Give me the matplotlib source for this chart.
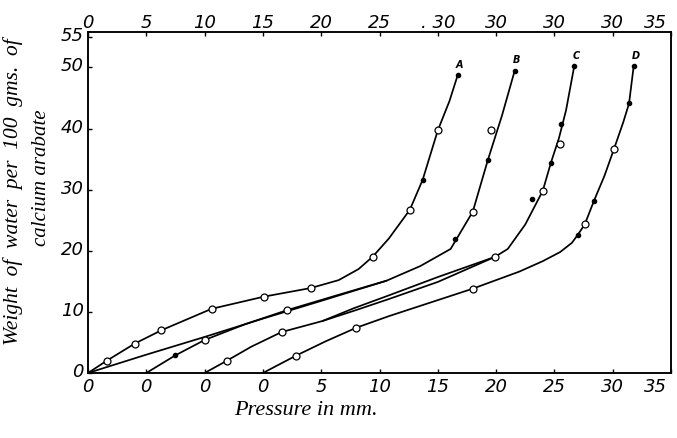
import matplotlib
matplotlib.use("Agg")
import matplotlib.pyplot as plt
import matplotlib.transforms as mtransforms
import numpy as np

# ---------------- data: pressure (mm, each curve's own scale) vs weight of water --------------
curve_names = ["A", "B", "C", "D"]
curve_offsets = [0, 5, 10, 15]          # each curve drawn 5 mm further to the right

# Curve A
A_x = [0, 1.6, 4.0, 6.3, 10.6, 15.1, 19.1, 21.5, 23.2, 24.4, 25.8, 27.6, 28.7, 30.0, 31.0, 31.7]
A_y = [0, 2.0, 4.8, 7.0, 10.5, 12.5, 13.9, 15.2, 17.0, 19.0, 22.0, 26.7, 31.6, 39.7, 44.5, 48.7]
A_circ_x = [1.6, 4.0, 6.3, 10.6, 15.1, 19.1, 24.4, 27.6, 30.0]
A_circ_y = [2.0, 4.8, 7.0, 10.5, 12.5, 13.9, 19.0, 26.7, 39.7]
A_dot_x = [28.7, 31.7]
A_dot_y = [31.6, 48.7]

# Curve B: upper branch (starts 5 mm left of B's zero) and lower branch
B_up_x = [-5, 0, 5, 10, 15, 20.6, 23.5, 26.1, 28.0, 29.3, 30.5, 31.6]
B_up_y = [0, 3.0, 5.9, 8.9, 11.8, 15.1, 17.5, 20.3, 26.4, 34.9, 42.1, 49.5]
B_low_x = [0, 2.5, 5.0, 8.5, 12.1, 16.5, 20.6]
B_low_y = [0, 2.9, 5.4, 8.0, 10.3, 12.8, 15.1]
B_circ_x = [5.0, 12.1, 28.0, 29.6]
B_circ_y = [5.4, 10.3, 26.4, 39.8]
B_dot_x = [2.5, 26.5, 29.3, 31.6]
B_dot_y = [2.9, 22.0, 34.9, 49.5]

# Curve C
C_x = [0, 1.9, 4.0, 6.6, 10.1, 13.0, 15.8, 20.0, 24.9, 26.0, 27.5, 29.0, 29.7, 30.4, 31.0, 31.7]
C_y = [0, 2.0, 4.3, 6.7, 8.5, 10.3, 12.1, 14.9, 19.0, 20.3, 24.3, 29.8, 34.4, 38.5, 43.0, 50.2]
C_second_x = [10.1, 12.8, 15.8, 20.0, 24.9]
C_second_y = [8.5, 10.6, 12.7, 15.7, 19.0]
C_circ_x = [1.9, 6.6, 24.9, 29.0, 30.5]
C_circ_y = [2.0, 6.7, 19.0, 29.8, 37.4]
C_dot_x = [28.1, 29.7, 30.6, 31.7]
C_dot_y = [28.4, 34.4, 40.8, 50.2]

# Curve D
D_x = [0, 2.8, 5.4, 8.0, 10.8, 14.0, 18.0, 22.0, 24.0, 25.5, 26.5, 27.0, 27.6, 28.4, 29.3, 30.1, 30.9, 31.4, 31.8]
D_y = [0, 2.8, 5.2, 7.4, 9.3, 11.3, 13.8, 16.6, 18.3, 19.8, 21.3, 22.6, 24.3, 28.2, 32.3, 36.6, 41.0, 44.1, 50.2]
D_circ_x = [2.8, 8.0, 18.0, 27.6, 30.1]
D_circ_y = [2.8, 7.4, 13.8, 24.3, 36.6]
D_dot_x = [27.0, 28.4, 31.4, 31.8]
D_dot_y = [22.6, 28.2, 44.1, 50.2]

bottom_labels = ["0", "0", "0", "0", "5", "10", "15", "20", "25", "30", "35"]
top_labels = ["0", "5", "10", "15", "20", "25", ". 30", "30", "30", "30", "35"]
y_ticks = [0, 10, 20, 30, 40, 50, 55]

# ---------------- figure -----------------------------------------------------------------------
W, H = 677, 439
fig = plt.figure(figsize=(W / 100, H / 100), dpi=100)
L, R, T, Bm = 88, 671, 33, 374
ax = fig.add_axes([L / W, 1 - Bm / H, (R - L) / W, (Bm - T) / H])

lw = 1.25
def line(xs, ys, off):
    ax.plot(np.array(xs) + off, ys, color="black", lw=lw, solid_joinstyle="round",
            solid_capstyle="round", zorder=2)

def circ(xs, ys, off):
    ax.plot(np.array(xs) + off, ys, "o", ms=5, mfc="white", mec="black", mew=0.9,
            ls="none", zorder=3)

def dots(xs, ys, off):
    ax.plot(np.array(xs) + off, ys, "o", ms=3, mfc="black", mec="black", ls="none", zorder=3)

oA, oB, oC, oD = curve_offsets
line(A_x, A_y, oA); circ(A_circ_x, A_circ_y, oA); dots(A_dot_x, A_dot_y, oA)
line(B_up_x, B_up_y, oB); line(B_low_x, B_low_y, oB)
circ(B_circ_x, B_circ_y, oB); dots(B_dot_x, B_dot_y, oB)
line(C_x, C_y, oC); line(C_second_x, C_second_y, oC)
circ(C_circ_x, C_circ_y, oC); dots(C_dot_x, C_dot_y, oC)
line(D_x, D_y, oD); circ(D_circ_x, D_circ_y, oD); dots(D_dot_x, D_dot_y, oD)

tops = [(A_x[-1] + oA, A_y[-1]), (B_up_x[-1] + oB, B_up_y[-1]),
        (C_x[-1] + oC, C_y[-1]), (D_x[-1] + oD, D_y[-1])]
for name, (tx, ty) in zip(curve_names, tops):
    ax.text(tx + 0.15, ty + 1.0, name, fontsize=7, style="italic", fontweight="bold",
            ha="center", va="bottom", family="DejaVu Sans")

ax.set_xlim(0, 50)
ax.set_ylim(0, 55.8)

pos = np.arange(0, 51, 5)
ax.set_xticks(pos)
ax.set_xticklabels(bottom_labels)
ax.set_yticks(y_ticks)
ax.set_yticklabels([str(v) for v in y_ticks])
ax.tick_params(axis="both", direction="in", length=3, width=1, labelsize=13, pad=3)
up = mtransforms.ScaledTranslation(0, 4 / 100, fig.dpi_scale_trans)
for lab in ax.get_yticklabels():
    lab.set_fontstyle("italic")
    lab.set_transform(lab.get_transform() + up)
for lab in ax.get_xticklabels():
    lab.set_fontstyle("italic")

ax2 = ax.twiny()
ax2.set_xlim(0, 50)
ax2.set_xticks(pos)
ax2.set_xticklabels(top_labels)
ax2.tick_params(axis="x", direction="in", length=3, width=1, labelsize=13, pad=1)
for lab in ax2.get_xticklabels():
    lab.set_fontstyle("italic")

left_shift = mtransforms.ScaledTranslation(-4 / 100, 0, fig.dpi_scale_trans)
for labs in (ax.get_xticklabels(), ax2.get_xticklabels()):
    labs[-1].set_ha("right")
    labs[-1].set_transform(labs[-1].get_transform() + left_shift)

for a in (ax, ax2):
    for s in a.spines.values():
        s.set_linewidth(1.1)

fig.text(13 / W, 1 - 192 / H, "Weight  of  water  per  100  gms.  of", rotation=90,
         ha="center", va="center", fontsize=15.5, family="Liberation Serif", style="italic")
fig.text(41 / W, 1 - 178 / H, "calcium arabate", rotation=90,
         ha="center", va="center", fontsize=15, family="Liberation Serif", style="italic")
fig.text(306 / W, 1 - 411 / H, "Pressure in mm.", ha="center", va="center",
         fontsize=16, family="Liberation Serif", style="italic")

fig.savefig("out.png", dpi=100)
